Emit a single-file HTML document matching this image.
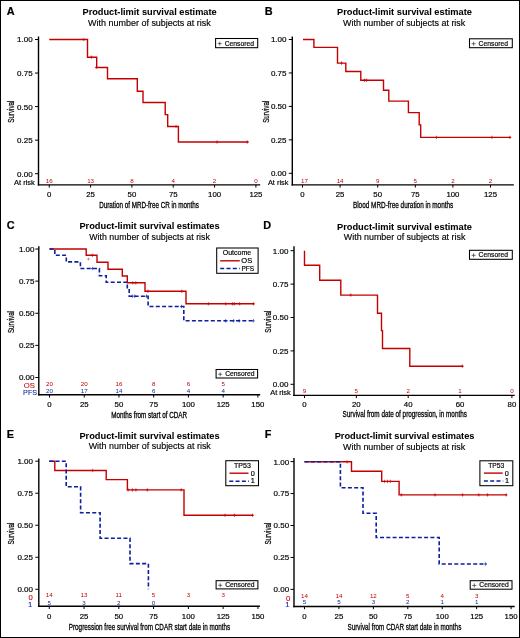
<!DOCTYPE html>
<html><head><meta charset="utf-8"><style>
html,body{margin:0;padding:0;background:#fff;width:520px;height:638px;overflow:hidden;}
svg{display:block;will-change:transform;}
text{font-family:"Liberation Sans", sans-serif;}
</style></head><body>
<svg width="520" height="638" viewBox="0 0 520 638">
<rect x="0.5" y="0.5" width="519" height="637" fill="#fff" stroke="#000" stroke-width="1"/>
<text x="6.8" y="14.9" font-size="10.9" font-weight="bold" fill="#000" stroke="#000" stroke-width="0.2">A</text>
<text x="149.6" y="15.0" font-size="9.4" text-anchor="middle" font-weight="bold" textLength="134.2" lengthAdjust="spacingAndGlyphs" fill="#000" stroke="#000" stroke-width="0.05">Product-limit survival estimate</text>
<text x="149.4" y="26.1" font-size="9.1" text-anchor="middle" textLength="122.8" lengthAdjust="spacingAndGlyphs" fill="#000" stroke="#000" stroke-width="0.15">With number of subjects at risk</text>
<line x1="38.5" y1="36.5" x2="38.5" y2="185.6" stroke="#000" stroke-width="1.4"/>
<line x1="37.8" y1="184.9" x2="260.2" y2="184.9" stroke="#000" stroke-width="1.4"/>
<line x1="35.0" y1="39.5" x2="38.5" y2="39.5" stroke="#000" stroke-width="1.0"/>
<text x="32.6" y="42.4" font-size="8.0" text-anchor="end" fill="#000" stroke="#000" stroke-width="0.18">1.00</text>
<line x1="35.0" y1="73.05" x2="38.5" y2="73.05" stroke="#000" stroke-width="1.0"/>
<text x="32.6" y="75.95" font-size="8.0" text-anchor="end" fill="#000" stroke="#000" stroke-width="0.18">0.75</text>
<line x1="35.0" y1="106.6" x2="38.5" y2="106.6" stroke="#000" stroke-width="1.0"/>
<text x="32.6" y="109.5" font-size="8.0" text-anchor="end" fill="#000" stroke="#000" stroke-width="0.18">0.50</text>
<line x1="35.0" y1="140.14999999999998" x2="38.5" y2="140.14999999999998" stroke="#000" stroke-width="1.0"/>
<text x="32.6" y="143.04999999999998" font-size="8.0" text-anchor="end" fill="#000" stroke="#000" stroke-width="0.18">0.25</text>
<line x1="35.0" y1="173.7" x2="38.5" y2="173.7" stroke="#000" stroke-width="1.0"/>
<text x="32.6" y="176.6" font-size="8.0" text-anchor="end" fill="#000" stroke="#000" stroke-width="0.18">0.00</text>
<line x1="49.25" y1="184.9" x2="49.25" y2="187.6" stroke="#000" stroke-width="1.0"/>
<text x="49.25" y="197.0" font-size="7.8" text-anchor="middle" fill="#000" stroke="#000" stroke-width="0.18">0</text>
<line x1="90.58" y1="184.9" x2="90.58" y2="187.6" stroke="#000" stroke-width="1.0"/>
<text x="90.58" y="197.0" font-size="7.8" text-anchor="middle" fill="#000" stroke="#000" stroke-width="0.18">25</text>
<line x1="131.91" y1="184.9" x2="131.91" y2="187.6" stroke="#000" stroke-width="1.0"/>
<text x="131.91" y="197.0" font-size="7.8" text-anchor="middle" fill="#000" stroke="#000" stroke-width="0.18">50</text>
<line x1="173.24" y1="184.9" x2="173.24" y2="187.6" stroke="#000" stroke-width="1.0"/>
<text x="173.24" y="197.0" font-size="7.8" text-anchor="middle" fill="#000" stroke="#000" stroke-width="0.18">75</text>
<line x1="214.57" y1="184.9" x2="214.57" y2="187.6" stroke="#000" stroke-width="1.0"/>
<text x="214.57" y="197.0" font-size="7.8" text-anchor="middle" fill="#000" stroke="#000" stroke-width="0.18">100</text>
<line x1="255.89999999999998" y1="184.9" x2="255.89999999999998" y2="187.6" stroke="#000" stroke-width="1.0"/>
<text x="255.89999999999998" y="197.0" font-size="7.8" text-anchor="middle" fill="#000" stroke="#000" stroke-width="0.18">125</text>
<text x="0" y="0" font-size="8.8" text-anchor="middle" textLength="22" lengthAdjust="spacingAndGlyphs" stroke="#000" stroke-width="0.25" transform="translate(14.0,111.7) rotate(-90)">Survival</text>
<text x="99.2" y="207.7" font-size="9.2" textLength="99.6" lengthAdjust="spacingAndGlyphs" fill="#000" stroke="#000" stroke-width="0.3">Duration of MRD-free CR in months</text>
<text x="264.8" y="14.7" font-size="10.9" font-weight="bold" fill="#000" stroke="#000" stroke-width="0.2">B</text>
<text x="404.5" y="15.0" font-size="9.4" text-anchor="middle" font-weight="bold" textLength="135.0" lengthAdjust="spacingAndGlyphs" fill="#000" stroke="#000" stroke-width="0.05">Product-limit survival estimate</text>
<text x="404.15" y="26.1" font-size="9.1" text-anchor="middle" textLength="122.3" lengthAdjust="spacingAndGlyphs" fill="#000" stroke="#000" stroke-width="0.15">With number of subjects at risk</text>
<line x1="292.3" y1="36.6" x2="292.3" y2="185.6" stroke="#000" stroke-width="1.4"/>
<line x1="291.6" y1="184.9" x2="513.8" y2="184.9" stroke="#000" stroke-width="1.4"/>
<line x1="288.8" y1="39.5" x2="292.3" y2="39.5" stroke="#000" stroke-width="1.0"/>
<text x="286.5" y="42.4" font-size="8.0" text-anchor="end" fill="#000" stroke="#000" stroke-width="0.18">1.00</text>
<line x1="288.8" y1="72.95" x2="292.3" y2="72.95" stroke="#000" stroke-width="1.0"/>
<text x="286.5" y="75.85000000000001" font-size="8.0" text-anchor="end" fill="#000" stroke="#000" stroke-width="0.18">0.75</text>
<line x1="288.8" y1="106.4" x2="292.3" y2="106.4" stroke="#000" stroke-width="1.0"/>
<text x="286.5" y="109.30000000000001" font-size="8.0" text-anchor="end" fill="#000" stroke="#000" stroke-width="0.18">0.50</text>
<line x1="288.8" y1="139.85000000000002" x2="292.3" y2="139.85000000000002" stroke="#000" stroke-width="1.0"/>
<text x="286.5" y="142.75000000000003" font-size="8.0" text-anchor="end" fill="#000" stroke="#000" stroke-width="0.18">0.25</text>
<line x1="288.8" y1="173.3" x2="292.3" y2="173.3" stroke="#000" stroke-width="1.0"/>
<text x="286.5" y="176.20000000000002" font-size="8.0" text-anchor="end" fill="#000" stroke="#000" stroke-width="0.18">0.00</text>
<line x1="302.5" y1="184.9" x2="302.5" y2="187.6" stroke="#000" stroke-width="1.0"/>
<text x="302.5" y="197.0" font-size="7.8" text-anchor="middle" fill="#000" stroke="#000" stroke-width="0.18">0</text>
<line x1="340.1" y1="184.9" x2="340.1" y2="187.6" stroke="#000" stroke-width="1.0"/>
<text x="340.1" y="197.0" font-size="7.8" text-anchor="middle" fill="#000" stroke="#000" stroke-width="0.18">25</text>
<line x1="377.7" y1="184.9" x2="377.7" y2="187.6" stroke="#000" stroke-width="1.0"/>
<text x="377.7" y="197.0" font-size="7.8" text-anchor="middle" fill="#000" stroke="#000" stroke-width="0.18">50</text>
<line x1="415.3" y1="184.9" x2="415.3" y2="187.6" stroke="#000" stroke-width="1.0"/>
<text x="415.3" y="197.0" font-size="7.8" text-anchor="middle" fill="#000" stroke="#000" stroke-width="0.18">75</text>
<line x1="452.9" y1="184.9" x2="452.9" y2="187.6" stroke="#000" stroke-width="1.0"/>
<text x="452.9" y="197.0" font-size="7.8" text-anchor="middle" fill="#000" stroke="#000" stroke-width="0.18">100</text>
<line x1="490.5" y1="184.9" x2="490.5" y2="187.6" stroke="#000" stroke-width="1.0"/>
<text x="490.5" y="197.0" font-size="7.8" text-anchor="middle" fill="#000" stroke="#000" stroke-width="0.18">125</text>
<text x="0" y="0" font-size="8.8" text-anchor="middle" textLength="22" lengthAdjust="spacingAndGlyphs" stroke="#000" stroke-width="0.25" transform="translate(268.8,111.8) rotate(-90)">Survival</text>
<text x="352.9" y="207.5" font-size="9.2" textLength="100.4" lengthAdjust="spacingAndGlyphs" fill="#000" stroke="#000" stroke-width="0.3">Blood MRD-free duration in months</text>
<text x="6.8" y="228.7" font-size="10.9" font-weight="bold" fill="#000" stroke="#000" stroke-width="0.2">C</text>
<text x="149.5" y="228.8" font-size="9.4" text-anchor="middle" font-weight="bold" textLength="140.2" lengthAdjust="spacingAndGlyphs" fill="#000" stroke="#000" stroke-width="0.05">Product-limit survival estimates</text>
<text x="149.55" y="239.60000000000002" font-size="9.1" text-anchor="middle" textLength="120.6" lengthAdjust="spacingAndGlyphs" fill="#000" stroke="#000" stroke-width="0.15">With number of subjects at risk</text>
<line x1="38.8" y1="246.3" x2="38.8" y2="395.5" stroke="#000" stroke-width="1.4"/>
<line x1="38.099999999999994" y1="394.8" x2="260.2" y2="394.8" stroke="#000" stroke-width="1.4"/>
<line x1="35.3" y1="249.0" x2="38.8" y2="249.0" stroke="#000" stroke-width="1.0"/>
<text x="34.5" y="251.9" font-size="8.0" text-anchor="end" fill="#000" stroke="#000" stroke-width="0.18">1.00</text>
<line x1="35.3" y1="281.125" x2="38.8" y2="281.125" stroke="#000" stroke-width="1.0"/>
<text x="34.5" y="284.025" font-size="8.0" text-anchor="end" fill="#000" stroke="#000" stroke-width="0.18">0.75</text>
<line x1="35.3" y1="313.25" x2="38.8" y2="313.25" stroke="#000" stroke-width="1.0"/>
<text x="34.5" y="316.15" font-size="8.0" text-anchor="end" fill="#000" stroke="#000" stroke-width="0.18">0.50</text>
<line x1="35.3" y1="345.375" x2="38.8" y2="345.375" stroke="#000" stroke-width="1.0"/>
<text x="34.5" y="348.275" font-size="8.0" text-anchor="end" fill="#000" stroke="#000" stroke-width="0.18">0.25</text>
<line x1="35.3" y1="377.5" x2="38.8" y2="377.5" stroke="#000" stroke-width="1.0"/>
<text x="34.5" y="380.4" font-size="8.0" text-anchor="end" fill="#000" stroke="#000" stroke-width="0.18">0.00</text>
<line x1="49.5" y1="394.8" x2="49.5" y2="397.5" stroke="#000" stroke-width="1.0"/>
<text x="49.5" y="406.6" font-size="7.8" text-anchor="middle" fill="#000" stroke="#000" stroke-width="0.18">0</text>
<line x1="84.22999999999999" y1="394.8" x2="84.22999999999999" y2="397.5" stroke="#000" stroke-width="1.0"/>
<text x="84.22999999999999" y="406.6" font-size="7.8" text-anchor="middle" fill="#000" stroke="#000" stroke-width="0.18">25</text>
<line x1="118.96" y1="394.8" x2="118.96" y2="397.5" stroke="#000" stroke-width="1.0"/>
<text x="118.96" y="406.6" font-size="7.8" text-anchor="middle" fill="#000" stroke="#000" stroke-width="0.18">50</text>
<line x1="153.69" y1="394.8" x2="153.69" y2="397.5" stroke="#000" stroke-width="1.0"/>
<text x="153.69" y="406.6" font-size="7.8" text-anchor="middle" fill="#000" stroke="#000" stroke-width="0.18">75</text>
<line x1="188.42" y1="394.8" x2="188.42" y2="397.5" stroke="#000" stroke-width="1.0"/>
<text x="188.42" y="406.6" font-size="7.8" text-anchor="middle" fill="#000" stroke="#000" stroke-width="0.18">100</text>
<line x1="223.14999999999998" y1="394.8" x2="223.14999999999998" y2="397.5" stroke="#000" stroke-width="1.0"/>
<text x="223.14999999999998" y="406.6" font-size="7.8" text-anchor="middle" fill="#000" stroke="#000" stroke-width="0.18">125</text>
<line x1="257.88" y1="394.8" x2="257.88" y2="397.5" stroke="#000" stroke-width="1.0"/>
<text x="257.88" y="406.6" font-size="7.8" text-anchor="middle" fill="#000" stroke="#000" stroke-width="0.18">150</text>
<text x="0" y="0" font-size="8.8" text-anchor="middle" textLength="22" lengthAdjust="spacingAndGlyphs" stroke="#000" stroke-width="0.25" transform="translate(14.2,322.0) rotate(-90)">Survival</text>
<text x="111.2" y="417.7" font-size="9.2" textLength="75.9" lengthAdjust="spacingAndGlyphs" fill="#000" stroke="#000" stroke-width="0.3">Months from start of CDAR</text>
<text x="263.3" y="228.5" font-size="10.9" font-weight="bold" fill="#000" stroke="#000" stroke-width="0.2">D</text>
<text x="404.5" y="229.5" font-size="9.4" text-anchor="middle" font-weight="bold" textLength="135.0" lengthAdjust="spacingAndGlyphs" fill="#000" stroke="#000" stroke-width="0.05">Product-limit survival estimate</text>
<text x="404.6" y="240.10000000000002" font-size="9.1" text-anchor="middle" textLength="121.6" lengthAdjust="spacingAndGlyphs" fill="#000" stroke="#000" stroke-width="0.15">With number of subjects at risk</text>
<line x1="294.0" y1="246.3" x2="294.0" y2="396.09999999999997" stroke="#000" stroke-width="1.4"/>
<line x1="293.3" y1="395.4" x2="514.7" y2="395.4" stroke="#000" stroke-width="1.4"/>
<line x1="290.5" y1="250.7" x2="294.0" y2="250.7" stroke="#000" stroke-width="1.0"/>
<text x="288.4" y="253.6" font-size="8.0" text-anchor="end" fill="#000" stroke="#000" stroke-width="0.18">1.00</text>
<line x1="290.5" y1="284.1" x2="294.0" y2="284.1" stroke="#000" stroke-width="1.0"/>
<text x="288.4" y="287.0" font-size="8.0" text-anchor="end" fill="#000" stroke="#000" stroke-width="0.18">0.75</text>
<line x1="290.5" y1="317.5" x2="294.0" y2="317.5" stroke="#000" stroke-width="1.0"/>
<text x="288.4" y="320.4" font-size="8.0" text-anchor="end" fill="#000" stroke="#000" stroke-width="0.18">0.50</text>
<line x1="290.5" y1="350.9" x2="294.0" y2="350.9" stroke="#000" stroke-width="1.0"/>
<text x="288.4" y="353.79999999999995" font-size="8.0" text-anchor="end" fill="#000" stroke="#000" stroke-width="0.18">0.25</text>
<line x1="290.5" y1="384.3" x2="294.0" y2="384.3" stroke="#000" stroke-width="1.0"/>
<text x="288.4" y="387.2" font-size="8.0" text-anchor="end" fill="#000" stroke="#000" stroke-width="0.18">0.00</text>
<line x1="304.5" y1="395.4" x2="304.5" y2="398.09999999999997" stroke="#000" stroke-width="1.0"/>
<text x="304.5" y="407.0" font-size="7.8" text-anchor="middle" fill="#000" stroke="#000" stroke-width="0.18">0</text>
<line x1="356.35" y1="395.4" x2="356.35" y2="398.09999999999997" stroke="#000" stroke-width="1.0"/>
<text x="356.35" y="407.0" font-size="7.8" text-anchor="middle" fill="#000" stroke="#000" stroke-width="0.18">20</text>
<line x1="408.2" y1="395.4" x2="408.2" y2="398.09999999999997" stroke="#000" stroke-width="1.0"/>
<text x="408.2" y="407.0" font-size="7.8" text-anchor="middle" fill="#000" stroke="#000" stroke-width="0.18">40</text>
<line x1="460.05" y1="395.4" x2="460.05" y2="398.09999999999997" stroke="#000" stroke-width="1.0"/>
<text x="460.05" y="407.0" font-size="7.8" text-anchor="middle" fill="#000" stroke="#000" stroke-width="0.18">60</text>
<line x1="511.9" y1="395.4" x2="511.9" y2="398.09999999999997" stroke="#000" stroke-width="1.0"/>
<text x="511.9" y="407.0" font-size="7.8" text-anchor="middle" fill="#000" stroke="#000" stroke-width="0.18">80</text>
<text x="0" y="0" font-size="8.8" text-anchor="middle" textLength="22" lengthAdjust="spacingAndGlyphs" stroke="#000" stroke-width="0.25" transform="translate(270.7,321.7) rotate(-90)">Survival</text>
<text x="342.6" y="417.3" font-size="9.2" textLength="124.3" lengthAdjust="spacingAndGlyphs" fill="#000" stroke="#000" stroke-width="0.3">Survival from date of progression, in months</text>
<text x="6.8" y="437.8" font-size="10.9" font-weight="bold" fill="#000" stroke="#000" stroke-width="0.2">E</text>
<text x="149.5" y="438.8" font-size="9.4" text-anchor="middle" font-weight="bold" textLength="140.2" lengthAdjust="spacingAndGlyphs" fill="#000" stroke="#000" stroke-width="0.05">Product-limit survival estimates</text>
<text x="149.75" y="449.40000000000003" font-size="9.1" text-anchor="middle" textLength="122.2" lengthAdjust="spacingAndGlyphs" fill="#000" stroke="#000" stroke-width="0.15">With number of subjects at risk</text>
<line x1="38.8" y1="458.4" x2="38.8" y2="607.0" stroke="#000" stroke-width="1.4"/>
<line x1="38.099999999999994" y1="606.3" x2="259.9" y2="606.3" stroke="#000" stroke-width="1.4"/>
<line x1="35.3" y1="461.2" x2="38.8" y2="461.2" stroke="#000" stroke-width="1.0"/>
<text x="33.0" y="464.09999999999997" font-size="8.0" text-anchor="end" fill="#000" stroke="#000" stroke-width="0.18">1.00</text>
<line x1="35.3" y1="493.22499999999997" x2="38.8" y2="493.22499999999997" stroke="#000" stroke-width="1.0"/>
<text x="33.0" y="496.12499999999994" font-size="8.0" text-anchor="end" fill="#000" stroke="#000" stroke-width="0.18">0.75</text>
<line x1="35.3" y1="525.25" x2="38.8" y2="525.25" stroke="#000" stroke-width="1.0"/>
<text x="33.0" y="528.15" font-size="8.0" text-anchor="end" fill="#000" stroke="#000" stroke-width="0.18">0.50</text>
<line x1="35.3" y1="557.275" x2="38.8" y2="557.275" stroke="#000" stroke-width="1.0"/>
<text x="33.0" y="560.175" font-size="8.0" text-anchor="end" fill="#000" stroke="#000" stroke-width="0.18">0.25</text>
<line x1="35.3" y1="589.3" x2="38.8" y2="589.3" stroke="#000" stroke-width="1.0"/>
<text x="33.0" y="592.1999999999999" font-size="8.0" text-anchor="end" fill="#000" stroke="#000" stroke-width="0.18">0.00</text>
<line x1="49.25" y1="606.3" x2="49.25" y2="609.0" stroke="#000" stroke-width="1.0"/>
<text x="49.25" y="618.8" font-size="7.8" text-anchor="middle" fill="#000" stroke="#000" stroke-width="0.18">0</text>
<line x1="84.03" y1="606.3" x2="84.03" y2="609.0" stroke="#000" stroke-width="1.0"/>
<text x="84.03" y="618.8" font-size="7.8" text-anchor="middle" fill="#000" stroke="#000" stroke-width="0.18">25</text>
<line x1="118.81" y1="606.3" x2="118.81" y2="609.0" stroke="#000" stroke-width="1.0"/>
<text x="118.81" y="618.8" font-size="7.8" text-anchor="middle" fill="#000" stroke="#000" stroke-width="0.18">50</text>
<line x1="153.59" y1="606.3" x2="153.59" y2="609.0" stroke="#000" stroke-width="1.0"/>
<text x="153.59" y="618.8" font-size="7.8" text-anchor="middle" fill="#000" stroke="#000" stroke-width="0.18">75</text>
<line x1="188.37" y1="606.3" x2="188.37" y2="609.0" stroke="#000" stroke-width="1.0"/>
<text x="188.37" y="618.8" font-size="7.8" text-anchor="middle" fill="#000" stroke="#000" stroke-width="0.18">100</text>
<line x1="223.15" y1="606.3" x2="223.15" y2="609.0" stroke="#000" stroke-width="1.0"/>
<text x="223.15" y="618.8" font-size="7.8" text-anchor="middle" fill="#000" stroke="#000" stroke-width="0.18">125</text>
<line x1="257.93" y1="606.3" x2="257.93" y2="609.0" stroke="#000" stroke-width="1.0"/>
<text x="257.93" y="618.8" font-size="7.8" text-anchor="middle" fill="#000" stroke="#000" stroke-width="0.18">150</text>
<text x="0" y="0" font-size="8.8" text-anchor="middle" textLength="22" lengthAdjust="spacingAndGlyphs" stroke="#000" stroke-width="0.25" transform="translate(14.2,533.6) rotate(-90)">Survival</text>
<text x="68.75" y="629.8" font-size="9.2" textLength="161.5" lengthAdjust="spacingAndGlyphs" fill="#000" stroke="#000" stroke-width="0.3">Progression free survival from CDAR start date in months</text>
<text x="264.7" y="437.8" font-size="10.9" font-weight="bold" fill="#000" stroke="#000" stroke-width="0.2">F</text>
<text x="404.6" y="439.3" font-size="9.4" text-anchor="middle" font-weight="bold" textLength="139.8" lengthAdjust="spacingAndGlyphs" fill="#000" stroke="#000" stroke-width="0.05">Product-limit survival estimates</text>
<text x="404.15" y="450.0" font-size="9.1" text-anchor="middle" textLength="122.3" lengthAdjust="spacingAndGlyphs" fill="#000" stroke="#000" stroke-width="0.15">With number of subjects at risk</text>
<line x1="294.0" y1="458.0" x2="294.0" y2="607.2" stroke="#000" stroke-width="1.4"/>
<line x1="293.3" y1="606.5" x2="514.7" y2="606.5" stroke="#000" stroke-width="1.4"/>
<line x1="290.5" y1="461.6" x2="294.0" y2="461.6" stroke="#000" stroke-width="1.0"/>
<text x="289.2" y="464.5" font-size="8.0" text-anchor="end" fill="#000" stroke="#000" stroke-width="0.18">1.00</text>
<line x1="290.5" y1="493.55" x2="294.0" y2="493.55" stroke="#000" stroke-width="1.0"/>
<text x="289.2" y="496.45" font-size="8.0" text-anchor="end" fill="#000" stroke="#000" stroke-width="0.18">0.75</text>
<line x1="290.5" y1="525.5" x2="294.0" y2="525.5" stroke="#000" stroke-width="1.0"/>
<text x="289.2" y="528.4" font-size="8.0" text-anchor="end" fill="#000" stroke="#000" stroke-width="0.18">0.50</text>
<line x1="290.5" y1="557.45" x2="294.0" y2="557.45" stroke="#000" stroke-width="1.0"/>
<text x="289.2" y="560.35" font-size="8.0" text-anchor="end" fill="#000" stroke="#000" stroke-width="0.18">0.25</text>
<line x1="290.5" y1="589.4" x2="294.0" y2="589.4" stroke="#000" stroke-width="1.0"/>
<text x="289.2" y="592.3" font-size="8.0" text-anchor="end" fill="#000" stroke="#000" stroke-width="0.18">0.00</text>
<line x1="304.5" y1="606.5" x2="304.5" y2="609.2" stroke="#000" stroke-width="1.0"/>
<text x="304.5" y="618.8" font-size="7.8" text-anchor="middle" fill="#000" stroke="#000" stroke-width="0.18">0</text>
<line x1="338.93" y1="606.5" x2="338.93" y2="609.2" stroke="#000" stroke-width="1.0"/>
<text x="338.93" y="618.8" font-size="7.8" text-anchor="middle" fill="#000" stroke="#000" stroke-width="0.18">25</text>
<line x1="373.36" y1="606.5" x2="373.36" y2="609.2" stroke="#000" stroke-width="1.0"/>
<text x="373.36" y="618.8" font-size="7.8" text-anchor="middle" fill="#000" stroke="#000" stroke-width="0.18">50</text>
<line x1="407.78999999999996" y1="606.5" x2="407.78999999999996" y2="609.2" stroke="#000" stroke-width="1.0"/>
<text x="407.78999999999996" y="618.8" font-size="7.8" text-anchor="middle" fill="#000" stroke="#000" stroke-width="0.18">75</text>
<line x1="442.22" y1="606.5" x2="442.22" y2="609.2" stroke="#000" stroke-width="1.0"/>
<text x="442.22" y="618.8" font-size="7.8" text-anchor="middle" fill="#000" stroke="#000" stroke-width="0.18">100</text>
<line x1="476.65" y1="606.5" x2="476.65" y2="609.2" stroke="#000" stroke-width="1.0"/>
<text x="476.65" y="618.8" font-size="7.8" text-anchor="middle" fill="#000" stroke="#000" stroke-width="0.18">125</text>
<line x1="511.08" y1="606.5" x2="511.08" y2="609.2" stroke="#000" stroke-width="1.0"/>
<text x="511.08" y="618.8" font-size="7.8" text-anchor="middle" fill="#000" stroke="#000" stroke-width="0.18">150</text>
<text x="0" y="0" font-size="8.8" text-anchor="middle" textLength="22" lengthAdjust="spacingAndGlyphs" stroke="#000" stroke-width="0.25" transform="translate(270.7,533.6) rotate(-90)">Survival</text>
<text x="347.5" y="630.0" font-size="9.2" textLength="113.8" lengthAdjust="spacingAndGlyphs" fill="#000" stroke="#000" stroke-width="0.3">Survival from CDAR start date in months</text>
<rect x="215.60" y="38.50" width="42.10" height="9.20" fill="#fff" stroke="#000" stroke-width="1.05"/>
<path d="M217.7,43.6H221.7M219.7,41.6V45.6" stroke="#222" stroke-width="0.65" fill="none"/>
<text x="224.7" y="45.6" font-size="7.2" textLength="29.4" lengthAdjust="spacingAndGlyphs" fill="#000" stroke="#000" stroke-width="0.18">Censored</text>
<text x="34.9" y="185.0" font-size="7.4" text-anchor="end" textLength="21.0" lengthAdjust="spacingAndGlyphs" fill="#000" stroke="#000" stroke-width="0.18">At risk</text>
<text x="49.25" y="183.2" font-size="6.2" text-anchor="middle" fill="#c40000">16</text>
<text x="90.58" y="183.2" font-size="6.2" text-anchor="middle" fill="#c40000">13</text>
<text x="131.91" y="183.2" font-size="6.2" text-anchor="middle" fill="#c40000">8</text>
<text x="173.24" y="183.2" font-size="6.2" text-anchor="middle" fill="#c40000">4</text>
<text x="214.57" y="183.2" font-size="6.2" text-anchor="middle" fill="#c40000">2</text>
<text x="255.89999999999998" y="183.2" font-size="6.2" text-anchor="middle" fill="#c40000">0</text>
<path d="M49.25,39.5 H87.5 V57.2 H96.7 V67.5 H107.5 V78.8 H137.3 V91.2 H143.0 V102.5 H165.2 V114.6 H167.7 V126.5 H178.4 V142.0 H248.5" fill="none" stroke="#c40000" stroke-width="1.4" stroke-linejoin="miter" stroke-linecap="butt"/>
<path d="M83.8,37.8V41.2M82.39999999999999,39.5H85.2M91.4,55.5V58.900000000000006M90.0,57.2H92.80000000000001M96.2,65.8V69.2M94.8,67.5H97.60000000000001M176.0,124.8V128.2M174.6,126.5H177.4M217.0,140.3V143.7M215.6,142.0H218.4M247.3,140.3V143.7M245.9,142.0H248.70000000000002" fill="none" stroke="#c40000" stroke-width="0.65"/>
<rect x="469.50" y="38.80" width="42.80" height="8.90" fill="#fff" stroke="#000" stroke-width="1.05"/>
<path d="M471.6,43.75H475.6M473.6,41.75V45.75" stroke="#222" stroke-width="0.65" fill="none"/>
<text x="478.6" y="45.6" font-size="7.2" textLength="29.4" lengthAdjust="spacingAndGlyphs" fill="#000" stroke="#000" stroke-width="0.18">Censored</text>
<text x="288.5" y="185.0" font-size="7.4" text-anchor="end" textLength="20.6" lengthAdjust="spacingAndGlyphs" fill="#000" stroke="#000" stroke-width="0.18">At risk</text>
<text x="304.5" y="183.2" font-size="6.2" text-anchor="middle" fill="#c40000">17</text>
<text x="340.1" y="183.2" font-size="6.2" text-anchor="middle" fill="#c40000">14</text>
<text x="377.7" y="183.2" font-size="6.2" text-anchor="middle" fill="#c40000">9</text>
<text x="415.3" y="183.2" font-size="6.2" text-anchor="middle" fill="#c40000">5</text>
<text x="452.9" y="183.2" font-size="6.2" text-anchor="middle" fill="#c40000">2</text>
<text x="490.5" y="183.2" font-size="6.2" text-anchor="middle" fill="#c40000">2</text>
<path d="M303.0,39.5 H313.9 V47.4 H337.5 V63.1 H345.8 V71.5 H360.8 V80.2 H383.5 V90.3 H388.8 V101.1 H408.4 V112.6 H419.2 V124.9 H420.7 V137.4 H511.0" fill="none" stroke="#c40000" stroke-width="1.4" stroke-linejoin="miter" stroke-linecap="butt"/>
<path d="M341.5,61.4V64.8M340.1,63.1H342.9M364.5,78.5V81.9M363.1,80.2H365.9M366.5,78.5V81.9M365.1,80.2H367.9M436.5,135.70000000000002V139.1M435.1,137.4H437.9M491.9,135.70000000000002V139.1M490.5,137.4H493.29999999999995M509.9,135.70000000000002V139.1M508.5,137.4H511.29999999999995" fill="none" stroke="#c40000" stroke-width="0.65"/>
<rect x="216.7" y="248.0" width="41.4" height="25.3" fill="#fff" stroke="#000" stroke-width="1.05"/>
<text x="237.0" y="255.2" font-size="7.3" text-anchor="middle" textLength="28.5" lengthAdjust="spacingAndGlyphs" fill="#000" stroke="#000" stroke-width="0.18">Outcome</text>
<line x1="220.2" y1="260.8" x2="239.8" y2="260.8" stroke="#c40000" stroke-width="1.4"/>
<text x="241.3" y="263.2" font-size="7.5" textLength="10.9" lengthAdjust="spacingAndGlyphs" fill="#000" stroke="#000" stroke-width="0.18">OS</text>
<line x1="220.2" y1="268.5" x2="239.8" y2="268.5" stroke="#0b1f9f" stroke-width="1.6" stroke-dasharray="4,2.3"/>
<text x="241.5" y="270.9" font-size="7.5" textLength="12.7" lengthAdjust="spacingAndGlyphs" fill="#000" stroke="#000" stroke-width="0.18">PFS</text>
<rect x="216.10" y="369.50" width="41.50" height="8.50" fill="#fff" stroke="#000" stroke-width="1.05"/>
<path d="M218.2,374.25H222.2M220.2,372.25V376.25" stroke="#222" stroke-width="0.65" fill="none"/>
<text x="225.2" y="375.9" font-size="7.2" textLength="29.4" lengthAdjust="spacingAndGlyphs" fill="#000" stroke="#000" stroke-width="0.18">Censored</text>
<text x="34.8" y="388.0" font-size="7.9" text-anchor="end" textLength="11.1" lengthAdjust="spacingAndGlyphs" fill="#c40000" stroke="#c40000" stroke-width="0.08">OS</text>
<text x="37.1" y="394.8" font-size="7.6" text-anchor="end" textLength="14.0" lengthAdjust="spacingAndGlyphs" fill="#0b1f9f" stroke="#0b1f9f" stroke-width="0.08">PFS</text>
<text x="49.5" y="385.9" font-size="6.2" text-anchor="middle" fill="#c40000">20</text>
<text x="84.22999999999999" y="385.9" font-size="6.2" text-anchor="middle" fill="#c40000">20</text>
<text x="118.96" y="385.9" font-size="6.2" text-anchor="middle" fill="#c40000">16</text>
<text x="153.69" y="385.9" font-size="6.2" text-anchor="middle" fill="#c40000">8</text>
<text x="188.42" y="385.9" font-size="6.2" text-anchor="middle" fill="#c40000">6</text>
<text x="223.14999999999998" y="385.9" font-size="6.2" text-anchor="middle" fill="#c40000">5</text>
<text x="49.5" y="392.9" font-size="6.2" text-anchor="middle" fill="#0b1f9f">20</text>
<text x="84.22999999999999" y="392.9" font-size="6.2" text-anchor="middle" fill="#0b1f9f">17</text>
<text x="118.96" y="392.9" font-size="6.2" text-anchor="middle" fill="#0b1f9f">14</text>
<text x="153.69" y="392.9" font-size="6.2" text-anchor="middle" fill="#0b1f9f">6</text>
<text x="188.42" y="392.9" font-size="6.2" text-anchor="middle" fill="#0b1f9f">4</text>
<text x="223.14999999999998" y="392.9" font-size="6.2" text-anchor="middle" fill="#0b1f9f">4</text>
<path d="M49.5,249.0 H86.2 V255.3 H97.0 V262.2 H108.0 V269.2 H122.3 V276.0 H127.3 V282.8 H145.0 V291.3 H186.0 V303.8 H254.4" fill="none" stroke="#c40000" stroke-width="1.4" stroke-linejoin="miter" stroke-linecap="butt"/>
<path d="M92.4,253.60000000000002V257.0M91.0,255.3H93.80000000000001M132.8,281.1V284.5M131.4,282.8H134.20000000000002M135.8,281.1V284.5M134.4,282.8H137.20000000000002M147.9,289.6V293.0M146.5,291.3H149.3M181.8,289.6V293.0M180.4,291.3H183.20000000000002M208.4,302.1V305.5M207.0,303.8H209.8M225.7,302.1V305.5M224.29999999999998,303.8H227.1M232.6,302.1V305.5M231.2,303.8H234.0M234.4,302.1V305.5M233.0,303.8H235.8M239.6,302.1V305.5M238.2,303.8H241.0M253.4,302.1V305.5M252.0,303.8H254.8" fill="none" stroke="#c40000" stroke-width="0.65"/>
<path d="M88.5,257.6V260.6M86.6,259.1H90.4" fill="none" stroke="#c40000" stroke-width="0.9" opacity="0.4"/>
<path d="M49.5,249.0 H54.8 V255.3 H66.3 V261.9 H80.4 V268.5 H99.4 V275.7 H106.2 V282.3 H127.3 V289.0 H129.2 V296.2 H148.1 V306.5 H183.8 V320.8 H254.4" fill="none" stroke="#0b1f9f" stroke-width="1.6" stroke-linejoin="miter" stroke-linecap="butt" stroke-dasharray="4,2.3"/>
<path d="M92.4,266.8V270.2M91.0,268.5H93.80000000000001M132.3,294.5V297.9M130.9,296.2H133.70000000000002M134.8,294.5V297.9M133.4,296.2H136.20000000000002M146.5,294.5V297.9M145.1,296.2H147.9M181.3,304.8V308.2M179.9,306.5H182.70000000000002M225.7,319.1V322.5M224.29999999999998,320.8H227.1M233.6,319.1V322.5M232.2,320.8H235.0M239.2,319.1V322.5M237.79999999999998,320.8H240.6M253.4,319.1V322.5M252.0,320.8H254.8" fill="none" stroke="#0b1f9f" stroke-width="0.65"/>
<rect x="469.50" y="250.30" width="42.80" height="9.00" fill="#fff" stroke="#000" stroke-width="1.05"/>
<path d="M471.6,255.3H475.6M473.6,253.3V257.3" stroke="#222" stroke-width="0.65" fill="none"/>
<text x="478.6" y="257.2" font-size="7.2" textLength="29.4" lengthAdjust="spacingAndGlyphs" fill="#000" stroke="#000" stroke-width="0.18">Censored</text>
<text x="290.8" y="394.8" font-size="7.4" text-anchor="end" textLength="20.6" lengthAdjust="spacingAndGlyphs" fill="#000" stroke="#000" stroke-width="0.18">At risk</text>
<text x="304.5" y="392.8" font-size="6.2" text-anchor="middle" fill="#c40000">9</text>
<text x="356.35" y="392.8" font-size="6.2" text-anchor="middle" fill="#c40000">5</text>
<text x="408.2" y="392.8" font-size="6.2" text-anchor="middle" fill="#c40000">2</text>
<text x="460.05" y="392.8" font-size="6.2" text-anchor="middle" fill="#c40000">1</text>
<text x="511.9" y="392.8" font-size="6.2" text-anchor="middle" fill="#c40000">0</text>
<path d="M304.5,250.7 H304.5 V265.3 H319.7 V280.3 H340.8 V295.1 H377.5 V313.2 H381.5 V330.6 H382.5 V348.5 H409.8 V366.2 H463.3" fill="none" stroke="#c40000" stroke-width="1.4" stroke-linejoin="miter" stroke-linecap="butt"/>
<path d="M350.8,293.40000000000003V296.8M349.40000000000003,295.1H352.2M462.3,364.5V367.9M460.90000000000003,366.2H463.7" fill="none" stroke="#c40000" stroke-width="0.65"/>
<rect x="225.8" y="460.7" width="32.7" height="25.0" fill="#fff" stroke="#000" stroke-width="1.05"/>
<text x="242.4" y="468.3" font-size="7.3" text-anchor="middle" textLength="16.8" lengthAdjust="spacingAndGlyphs" fill="#000" stroke="#000" stroke-width="0.18">TP53</text>
<line x1="229.5" y1="473.2" x2="248.5" y2="473.2" stroke="#c40000" stroke-width="1.4"/>
<text x="250.8" y="475.5" font-size="7.3" fill="#000" stroke="#000" stroke-width="0.18">0</text>
<line x1="229.3" y1="481.2" x2="249.0" y2="481.2" stroke="#0b1f9f" stroke-width="1.6" stroke-dasharray="4,2.3"/>
<text x="250.8" y="483.2" font-size="7.3" fill="#000" stroke="#000" stroke-width="0.18">1</text>
<rect x="216.10" y="580.70" width="41.80" height="8.20" fill="#fff" stroke="#000" stroke-width="1.05"/>
<path d="M218.2,585.3H222.2M220.2,583.3V587.3" stroke="#222" stroke-width="0.65" fill="none"/>
<text x="225.2" y="586.8" font-size="7.2" textLength="29.4" lengthAdjust="spacingAndGlyphs" fill="#000" stroke="#000" stroke-width="0.18">Censored</text>
<text x="32.8" y="599.8" font-size="7.7" text-anchor="end" fill="#c40000" stroke="#c40000" stroke-width="0.1">0</text>
<text x="32.4" y="606.9" font-size="7.7" text-anchor="end" fill="#0b1f9f" stroke="#0b1f9f" stroke-width="0.1">1</text>
<text x="49.25" y="597.3" font-size="6.2" text-anchor="middle" fill="#c40000">14</text>
<text x="84.03" y="597.3" font-size="6.2" text-anchor="middle" fill="#c40000">13</text>
<text x="118.81" y="597.3" font-size="6.2" text-anchor="middle" fill="#c40000">11</text>
<text x="153.59" y="597.3" font-size="6.2" text-anchor="middle" fill="#c40000">5</text>
<text x="188.37" y="597.3" font-size="6.2" text-anchor="middle" fill="#c40000">3</text>
<text x="223.15" y="597.3" font-size="6.2" text-anchor="middle" fill="#c40000">3</text>
<text x="49.25" y="604.7" font-size="6.2" text-anchor="middle" fill="#0b1f9f">5</text>
<text x="84.03" y="604.7" font-size="6.2" text-anchor="middle" fill="#0b1f9f">3</text>
<text x="118.81" y="604.7" font-size="6.2" text-anchor="middle" fill="#0b1f9f">2</text>
<text x="153.59" y="604.7" font-size="6.2" text-anchor="middle" fill="#0b1f9f">0</text>
<path d="M49.25,461.2 H54.8 V470.5 H106.2 V479.6 H127.4 V489.9 H184.0 V515.3 H253.3" fill="none" stroke="#c40000" stroke-width="1.4" stroke-linejoin="miter" stroke-linecap="butt"/>
<path d="M92.7,468.8V472.2M91.3,470.5H94.10000000000001M128.1,488.2V491.59999999999997M126.69999999999999,489.9H129.5M132.4,488.2V491.59999999999997M131.0,489.9H133.8M135.9,488.2V491.59999999999997M134.5,489.9H137.3M147.3,488.2V491.59999999999997M145.9,489.9H148.70000000000002M181.2,488.2V491.59999999999997M179.79999999999998,489.9H182.6M225.0,513.5999999999999V517.0M223.6,515.3H226.4M234.4,513.5999999999999V517.0M233.0,515.3H235.8M252.5,513.5999999999999V517.0M251.1,515.3H253.9" fill="none" stroke="#c40000" stroke-width="0.65"/>
<path d="M49.25,461.2 H66.2 V486.8 H80.6 V512.7 H100.1 V538.2 H130.0 V563.6 H148.4 V589.3" fill="none" stroke="#0b1f9f" stroke-width="1.6" stroke-linejoin="miter" stroke-linecap="butt" stroke-dasharray="4,2.3"/>
<rect x="479.9" y="460.8" width="32.9" height="24.9" fill="#fff" stroke="#000" stroke-width="1.05"/>
<text x="496.2" y="468.2" font-size="7.3" text-anchor="middle" textLength="16.0" lengthAdjust="spacingAndGlyphs" fill="#000" stroke="#000" stroke-width="0.18">TP53</text>
<line x1="483.9" y1="473.1" x2="502.7" y2="473.1" stroke="#c40000" stroke-width="1.4"/>
<text x="504.8" y="475.5" font-size="7.3" fill="#000" stroke="#000" stroke-width="0.18">0</text>
<line x1="483.9" y1="481.0" x2="503.2" y2="481.0" stroke="#0b1f9f" stroke-width="1.6" stroke-dasharray="4,2.3"/>
<text x="505.0" y="483.2" font-size="7.3" fill="#000" stroke="#000" stroke-width="0.18">1</text>
<rect x="470.20" y="580.70" width="41.80" height="8.50" fill="#fff" stroke="#000" stroke-width="1.05"/>
<path d="M472.3,585.45H476.3M474.3,583.45V587.45" stroke="#222" stroke-width="0.65" fill="none"/>
<text x="479.3" y="587.1" font-size="7.2" textLength="29.4" lengthAdjust="spacingAndGlyphs" fill="#000" stroke="#000" stroke-width="0.18">Censored</text>
<text x="290.3" y="600.5" font-size="7.7" text-anchor="end" fill="#c40000" stroke="#c40000" stroke-width="0.1">0</text>
<text x="289.6" y="607.4" font-size="7.7" text-anchor="end" fill="#0b1f9f" stroke="#0b1f9f" stroke-width="0.1">1</text>
<text x="304.5" y="597.9" font-size="6.2" text-anchor="middle" fill="#c40000">14</text>
<text x="338.93" y="597.9" font-size="6.2" text-anchor="middle" fill="#c40000">14</text>
<text x="373.36" y="597.9" font-size="6.2" text-anchor="middle" fill="#c40000">12</text>
<text x="407.78999999999996" y="597.9" font-size="6.2" text-anchor="middle" fill="#c40000">5</text>
<text x="442.22" y="597.9" font-size="6.2" text-anchor="middle" fill="#c40000">4</text>
<text x="476.65" y="597.9" font-size="6.2" text-anchor="middle" fill="#c40000">3</text>
<text x="304.5" y="604.3" font-size="6.2" text-anchor="middle" fill="#0b1f9f">5</text>
<text x="338.93" y="604.3" font-size="6.2" text-anchor="middle" fill="#0b1f9f">5</text>
<text x="373.36" y="604.3" font-size="6.2" text-anchor="middle" fill="#0b1f9f">3</text>
<text x="407.78999999999996" y="604.3" font-size="6.2" text-anchor="middle" fill="#0b1f9f">2</text>
<text x="442.22" y="604.3" font-size="6.2" text-anchor="middle" fill="#0b1f9f">1</text>
<text x="476.65" y="604.3" font-size="6.2" text-anchor="middle" fill="#0b1f9f">1</text>
<path d="M304.5,461.8 H351.5 V471.3 H381.7 V481.4 H399.1 V494.9 H507.0" fill="none" stroke="#c40000" stroke-width="1.4" stroke-linejoin="miter" stroke-linecap="butt"/>
<path d="M347.1,460.1V463.5M345.70000000000005,461.8H348.5M384.6,479.7V483.09999999999997M383.20000000000005,481.4H386.0M387.5,479.7V483.09999999999997M386.1,481.4H388.9M390.4,479.7V483.09999999999997M389.0,481.4H391.79999999999995M401.3,493.2V496.59999999999997M399.90000000000003,494.9H402.7M435.0,493.2V496.59999999999997M433.6,494.9H436.4M462.5,493.2V496.59999999999997M461.1,494.9H463.9M478.8,493.2V496.59999999999997M477.40000000000003,494.9H480.2M487.5,493.2V496.59999999999997M486.1,494.9H488.9M506.2,493.2V496.59999999999997M504.8,494.9H507.59999999999997" fill="none" stroke="#c40000" stroke-width="0.65"/>
<path d="M304.5,461.8 H340.4 V487.7 H363.0 V513.2 H376.2 V537.5 H439.2 V564.0 H486.5" fill="none" stroke="#0b1f9f" stroke-width="1.6" stroke-linejoin="miter" stroke-linecap="butt" stroke-dasharray="4,2.3"/>
<path d="M485.4,562.3V565.7M484.0,564.0H486.79999999999995" fill="none" stroke="#0b1f9f" stroke-width="0.65"/>
</svg>
</body></html>
